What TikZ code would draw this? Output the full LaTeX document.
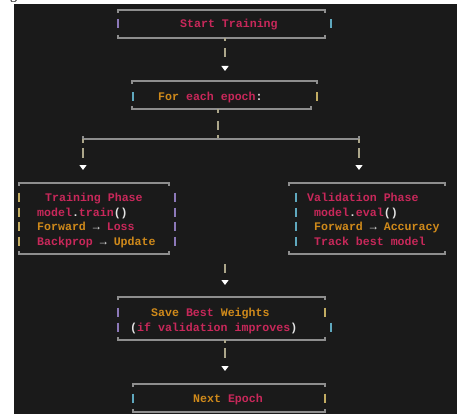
\documentclass[tikz,border=0pt]{standalone}
\usepackage{fontspec}
\setmonofont{Liberation Mono}
\setmainfont{Liberation Serif}
\usetikzlibrary{arrows.meta}

\definecolor{bg}{HTML}{1A1A1A}
\definecolor{pk}{HTML}{C8285A}
\definecolor{og}{HTML}{D08A1A}
\definecolor{wt}{HTML}{E4E4E4}
\definecolor{rimc}{HTML}{8E8E8E}
\definecolor{barY}{HTML}{C2AC62}
\definecolor{barC}{HTML}{5FA8BE}
\definecolor{barP}{HTML}{8C78B8}
\definecolor{linkc}{HTML}{ACA68A}

\newcommand\cpk[1]{\textcolor{pk}{#1}}
\newcommand\cor[1]{\textcolor{og}{#1}}
\newcommand\cwt[1]{\textcolor{wt}{#1}}

\begin{document}
\begin{tikzpicture}[x=1pt,y=-1pt,
  boxarea/.style={draw=none,inner sep=0pt,outer sep=0pt,rectangle},
  txt/.style={anchor=base west,inner sep=0pt,
    font=\ttfamily\bfseries\fontsize{11.6}{14}\selectfont},
  rim/.style={draw=rimc,line width=1.3pt},
  vbar/.style={line width=1.4pt},
  link/.style={draw=linkc,line width=1.4pt,
    -{Triangle[width=7pt,length=5pt,fill=white,color=white]}},
]
\useasboundingbox (0,0) rectangle (457,414);
\fill[white] (0,0) rectangle (457,414);
\node[anchor=base,inner sep=0pt,font=\fontsize{14}{16}\selectfont] (g) at (13.5,-0.5) {g};
\fill[bg] (14,4) rectangle (457,414);

% ---- box areas ----
\node[boxarea,minimum width=207pt,minimum height=28pt] (start) at (221.5,24) {};
\node[boxarea,minimum width=185pt,minimum height=28pt] (epoch) at (224.5,95) {};
\node[boxarea,minimum width=150pt,minimum height=71pt] (train) at (94,218.5) {};
\node[boxarea,minimum width=156pt,minimum height=71pt] (valid) at (367,218.5) {};
\node[boxarea,minimum width=207pt,minimum height=43pt] (save) at (221.5,318.5) {};
\node[boxarea,minimum width=192pt,minimum height=28pt] (next) at (229,398) {};

% ---- frames: top and bottom rules with corner ticks ----
\foreach \b in {start,epoch,train,valid,save,next}{
  \draw[rim] ([yshift=-3pt]\b.north west) -- (\b.north west) -- (\b.north east) -- ([yshift=-3pt]\b.north east);
}
\foreach \b in {start,train,valid,save,next}{
  \draw[rim] ([yshift=3pt]\b.south west) -- (\b.south west) -- (\b.south east) -- ([yshift=3pt]\b.south east);
}
\draw[rim] ([yshift=3pt]epoch.south west) -- (epoch.south west) -- ([xshift=-6pt]epoch.south east) -- ([xshift=-6pt,yshift=3pt]epoch.south east);

% ---- side bars ----
\draw[vbar,barP] (118,19.5) -- (118,28.5);
\draw[vbar,barC] (331,19.5) -- (331,28.5);
\draw[vbar,barC] (133,92.5) -- (133,101.5);
\draw[vbar,barY] (317,92.5) -- (317,101.5);
\foreach \y in {197,212,226,241}{
  \draw[vbar,barY] (19,\y-4.5) -- (19,\y+4.5);
  \draw[vbar,barP] (175,\y-4.5) -- (175,\y+4.5);
  \draw[vbar,barC] (296,\y-4.5) -- (296,\y+4.5);
}
\draw[vbar,barP] (118,307.5) -- (118,316.5);
\draw[vbar,barP] (118,322.5) -- (118,331.5);
\draw[vbar,barY] (325,307.5) -- (325,316.5);
\draw[vbar,barC] (331,322.5) -- (331,331.5);
\draw[vbar,barC] (133,393.5) -- (133,402.5);
\draw[vbar,barY] (325,393.5) -- (325,402.5);

% ---- texts ----
\node[txt] (tstart) at (180,28) {\cpk{Start Training}};
\node[txt] (tepoch) at (158,101) {\cor{For} \cpk{each epoch}\cwt{:}};

\node[txt] (ttr1) at (45,201) {\cpk{Training Phase}};
\node[txt] (ttr2) at (37,216) {\cpk{model}\cwt{.}\cpk{train}\cwt{()}};
\node[txt] (ttr3) at (37,230) {\cor{Forward} \cwt{→} \cpk{Loss}};
\node[txt] (ttr4) at (37,245) {\cpk{Backprop} \cwt{→} \cor{Update}};

\node[txt] (tva1) at (307,201) {\cpk{Validation Phase}};
\node[txt] (tva2) at (314,216) {\cpk{model}\cwt{.}\cpk{eval}\cwt{()}};
\node[txt] (tva3) at (314,230) {\cor{Forward} \cwt{→} \cor{Accuracy}};
\node[txt] (tva4) at (314,245) {\cpk{Track best model}};

\node[txt] (tsv1) at (151,316) {\cor{Save} \cpk{Best} \cor{Weights}};
\node[txt] (tsv2) at (130,331) {\cwt{(}\cpk{if validation improves}\cwt{)}};

\node[txt] (tnext) at (193,402) {\cor{Next} \cpk{Epoch}};

% ---- connectors ----
\draw[link,dash pattern=on 3pt off 7pt on 9pt off 60pt,shorten >=10pt]
  ([xshift=3.5pt]start.south) -- ([xshift=0.5pt]epoch.north);

\coordinate (fork) at (218,139);
\coordinate (forkL) at (83,139);
\coordinate (forkR) at (359,139);
\draw[draw=linkc,line width=1.4pt,dash pattern=on 4pt off 8pt on 9pt off 5pt on 4pt]
  ([xshift=-6.5pt]epoch.south) -- (fork);
\draw[rim] ([yshift=3pt]forkL) -- (forkL) -- (forkR) -- ([yshift=3pt]forkR);
\draw[link,dash pattern=on 4pt off 5pt on 10pt off 60pt,shorten >=13pt]
  (forkL) -- ([xshift=-11pt]train.north);
\draw[link,dash pattern=on 4pt off 5pt on 10pt off 60pt,shorten >=13pt]
  (forkR) -- ([xshift=-8pt]valid.north);

\coordinate (merge) at (225,264);
\draw[link,dash pattern=on 9pt off 60pt,shorten >=12pt]
  (merge) -- ([xshift=3.5pt]save.north);

\draw[link,dash pattern=on 3pt off 5pt on 10pt off 60pt,shorten >=13pt]
  ([xshift=3.5pt]save.south) -- ([xshift=-4pt]next.north);
\end{tikzpicture}
\end{document}
